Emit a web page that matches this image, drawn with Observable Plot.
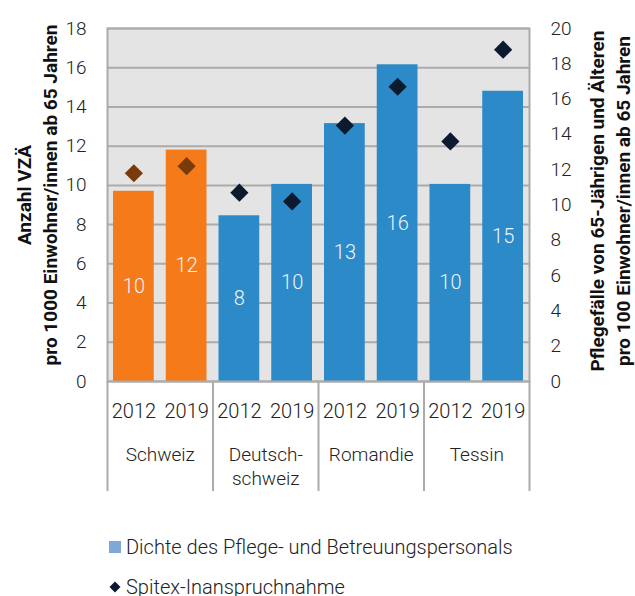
<!DOCTYPE html>
<html>
<head>
<meta charset="utf-8">
<script src="https://cdn.jsdelivr.net/npm/d3@7"></script>
<script src="https://cdn.jsdelivr.net/npm/@observablehq/plot@0.6"></script>
<style>
  body { margin: 0; background: #fff; font-family: Roboto, sans-serif; }
  #chart svg { display: block; overflow: visible; }
  .legend { font-family: Roboto, sans-serif; font-weight: 300; font-size: 20px; color: #222; margin-top: 27px; }
  .legend .row { height: 40px; line-height: 40px; display: flex; align-items: center; padding-left: 109px; }
  .legend .sq { width: 12px; height: 12px; background: #7ea8d8; margin-right: 5px; }
  .legend .dm { width: 12px; height: 12px; margin-right: 5px; display: flex; align-items: center; justify-content: center; }
</style>
</head>
<body>
<div id="chart"></div>
<div class="legend">
  <div class="row"><span class="sq"></span><span>Dichte des Pflege- und Betreuungspersonals</span></div>
  <div class="row"><span class="dm"><svg width="12" height="12"><path d="M6,0.5L11.5,6L6,11.5L0.5,6Z" fill="#0b1a2e"/></svg></span><span>Spitex-Inanspruchnahme</span></div>
</div>
<script>
// ---- data ----
const groups = ["Schweiz", "Deutsch-\nschweiz", "Romandie", "Tessin"];
const years = ["2012", "2019"];
// Dichte des Pflege- und Betreuungspersonals (VZÄ pro 1000 Einw. ab 65), left axis
const dichte = [9.7, 11.8, 8.45, 10.05, 13.15, 16.15, 10.05, 14.8];
// Spitex-Inanspruchnahme (Pflegefälle pro 100 Einw. ab 65), right axis
const spitex = [11.8, 12.2, 10.7, 10.2, 14.5, 16.7, 13.6, 18.8];
const leftTicks = [0, 2, 4, 6, 8, 10, 12, 14, 16, 18];
const rightTicks = [0, 2, 4, 6, 8, 10, 12, 14, 16, 18, 20];
const leftTitle = "Anzahl VZÄ\npro 1000 Einwohner/innen ab 65 Jahren";
const rightTitle = "Pflegefälle von 65-Jährigen und Älteren\npro 100 Einwohner/innen ab 65 Jahren";

const leftMax = 18, rightMax = 20;
const toLeft = v => v * leftMax / rightMax;

const rows = dichte.map((v, i) => ({
  idx: i,
  group: Math.floor(i / 2),
  year: years[i % 2],
  dichte: v,
  spitex: spitex[i]
}));
const groupIdx = groups.map((g, i) => i);

const orange = "#f47a1a", blue = "#2b8ac7";
const brown = "#7b3a0b", navy = "#0b1a2e";
const gridColor = "#ababab";

const chart = Plot.plot({
  width: 635,
  height: 500,
  marginLeft: 107,
  marginRight: 106,
  marginTop: 28,
  marginBottom: 119,
  style: { fontFamily: "Roboto, sans-serif", color: "#222", background: "transparent" },
  x: { domain: [0, groups.length * years.length], label: null, axis: null },
  y: { domain: [0, leftMax], label: null, axis: null },
  marks: [
    Plot.frame({ fill: "#e4e4e4" }),
    Plot.gridY(leftTicks, { stroke: gridColor, strokeOpacity: 1, strokeWidth: 2 }),
    Plot.rectY(rows, {
      x1: "idx", x2: d => d.idx + 1, y: "dichte",
      fill: d => d.group === 0 ? orange : blue,
      insetLeft: 6, insetRight: 6
    }),
    Plot.text(rows, {
      x: d => d.idx + 0.5, y: d => d.dichte / 2,
      text: d => String(Math.round(d.dichte)),
      fill: "#eef4fa", fontSize: 20, fontWeight: 300
    }),
    Plot.dot(rows, {
      x: d => d.idx + 0.5, y: d => toLeft(d.spitex),
      symbol: "diamond2", r: 8.2,
      fill: d => d.group === 0 ? brown : navy, stroke: null
    }),
    Plot.frame({ stroke: gridColor, strokeWidth: 2 }),
    Plot.axisY(leftTicks, {
      anchor: "left", tickSize: 0, tickPadding: 21, fontSize: 19, fontWeight: 300, label: null
    }),
    Plot.axisY(rightTicks.map(toLeft), {
      anchor: "right", tickSize: 0, tickPadding: 21, fontSize: 19, fontWeight: 300, label: null,
      tickFormat: v => String(Math.round(v * rightMax / leftMax))
    }),
    Plot.axisX(rows.map(d => d.idx + 0.5), {
      tickSize: 0, tickPadding: 22, fontSize: 20, fontWeight: 300, label: null,
      tickFormat: v => years[Math.floor(v) % 2]
    }),
    Plot.axisX(groupIdx.concat([groups.length]).map(g => g * 2), {
      tickSize: 110, tickFormat: () => "", stroke: gridColor, strokeWidth: 2, label: null
    }),
    Plot.text(groups, {
      x: (d, i) => i * 2 + 1, frameAnchor: "bottom", lineAnchor: "top",
      dy: 63, lineHeight: 1.25, fontSize: 19, fontWeight: 300, fill: "#222"
    }),
    Plot.text([leftTitle], {
      frameAnchor: "left", textAnchor: "middle", lineAnchor: "middle", rotate: -90, dx: -72, dy: -10,
      lineHeight: 1.37, fontSize: 19, fontWeight: 700, fill: "#111"
    }),
    Plot.text([rightTitle], {
      frameAnchor: "right", textAnchor: "middle", lineAnchor: "middle", rotate: -90, dx: 79, dy: -4,
      lineHeight: 1.37, fontSize: 19, fontWeight: 700, fill: "#111"
    })
  ]
});
document.getElementById("chart").appendChild(chart);
</script>
</body>
</html>
